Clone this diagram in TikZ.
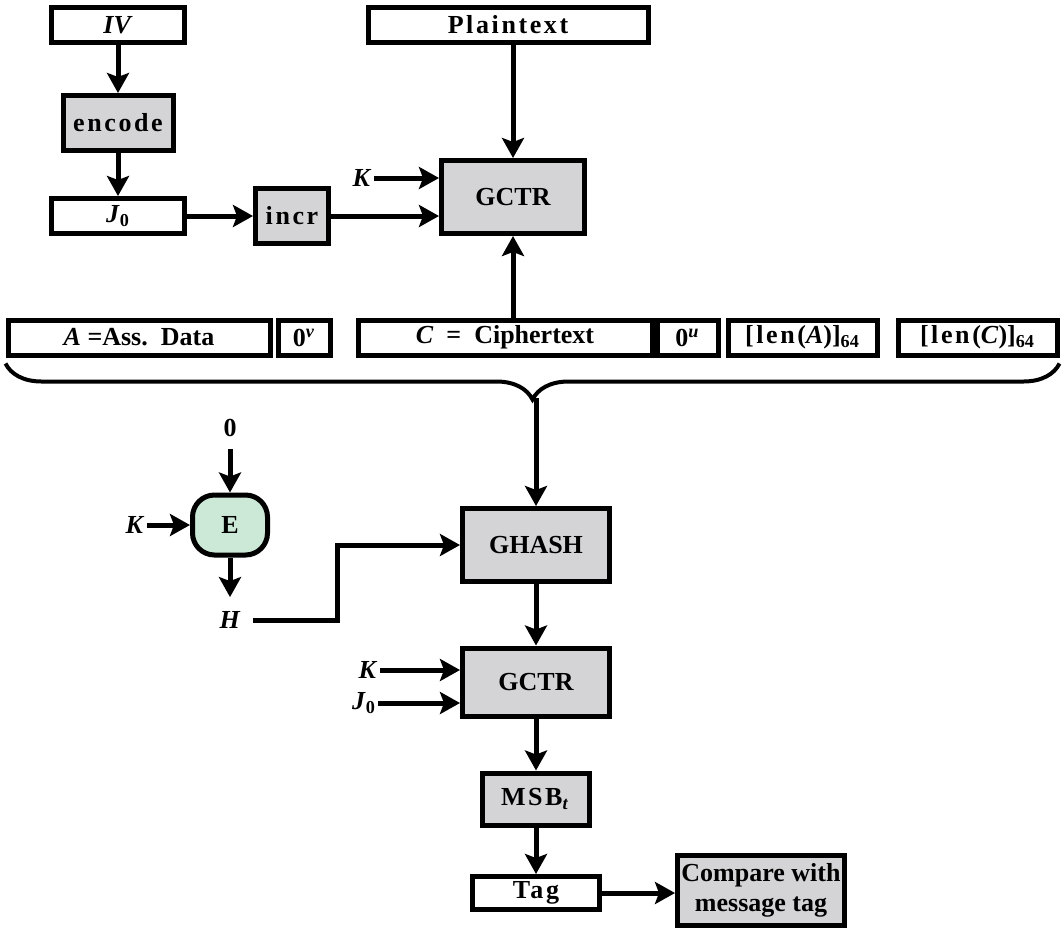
\documentclass[tikz,border=0pt]{standalone}
\usepackage{fontspec}
\setmainfont{Liberation Serif}
\newfontfamily\spaced[LetterSpace=10]{Liberation Serif}
\usetikzlibrary{arrows.meta}
\usetikzlibrary{decorations.pathreplacing}
\definecolor{cgray}{rgb}{0.83, 0.83, 0.84}
\definecolor{cgreen}{rgb}{0.80, 0.91, 0.84}

\begin{document}
\begin{tikzpicture}[x=0.5pt, y=-0.5pt,
    font=\fontsize{13}{15}\selectfont\bfseries,
    box/.style={draw, line width=2.5pt, fill=white, inner sep=0pt, minimum height=17.5pt},
    op/.style={box, fill=cgray},
    arr/.style={line width=2.5pt, -{Stealth[length=10pt, width=11pt, inset=2pt]}},
    lab/.style={inner sep=1pt}]

\useasboundingbox (0, 0) rectangle (1063, 932);

% IV, encode, J0, incr
\node [box, minimum width=66.5pt] (iv) at (118, 25) {\textit{IV}};
\node [op, minimum width=55pt, minimum height=27.5pt] (enc) at (118, 123) {\spaced encode};
\node [box, minimum width=66.5pt] (j0) at (118, 216) {\textit{J}\textsubscript{0}};
\node [op, minimum width=36.5pt, minimum height=27.5pt] (inc) at (292, 216) {\spaced incr};

\draw [arr] (iv) -- (enc);
\draw [arr] (enc) -- (j0);
\draw [arr] (j0) -- (inc);

% plaintext and first GCTR
\node [box, minimum width=140pt] (ptxt) at (508, 25) {\spaced Plaintext};
\node [op, minimum width=71.5pt, minimum height=36.5pt] (gctra) at (513, 197) {GCTR};
\node [lab] (ka) at (362, 178) {\textit{K}};

\draw [arr] (gctra |- ptxt.south) -- (gctra.north);
\draw [arr] (ka) -- (ka -| gctra.west);
\draw [arr] (inc) -- (inc -| gctra.west);

% data row
\foreach \name/\x/\w/\txt in {
    ad/139/131/{\textit{A} =Ass.\ \ Data},
    zv/304/26/{0\textsuperscript{\textit{v}}},
    ct/505/147/{\textit{C} \ = \ Ciphertext},
    zu/687.5/30.5/{0\textsuperscript{\textit{u}}},
    la/802.5/74.5/{{\spaced [len(}\textit{A}){]}\textsubscript{64}},
    lc/977.5/79.5/{{\spaced [len(}\textit{C}){]}\textsubscript{64}}} {
    \node [box, minimum width=\w pt] (\name) at (\x, 337.5) {\txt};
}

\draw [arr] (gctra |- ct.north) -- (gctra.south);

% brace over the data row
\draw [line width=2pt, decorate, decoration={brace, mirror, amplitude=18pt, raise=3pt}]
    (ad.south west) -- (lc.south east);
\coordinate (tip) at (536, 398);

% GHASH
\node [op, minimum width=73.5pt, minimum height=36.5pt] (ghash) at (536, 545) {GHASH};
\draw [arr] (tip) -- (ghash.north);

% hash subkey
\node [lab] (zero) at (230, 428) {0};
\node [draw, line width=2.5pt, fill=cgreen, rounded corners=11pt, minimum width=37.5pt,
    minimum height=30pt] (e) at (230, 525) {E};
\node [lab] (ke) at (135, 525) {\textit{K}};
\node [lab] (h) at (230, 620) {\textit{H}};
\coordinate (hbend) at (337, 545);

\draw [arr, shorten <=5pt] (zero) -- (e);
\draw [arr] (ke) -- (e);
\draw [arr, shorten >=6pt] (e) -- (h);
\draw [arr, shorten <=5pt] (h.east) -| (hbend) -- (ghash.west);

% second GCTR
\node [op, minimum width=73.5pt, minimum height=34pt] (gctrb) at (536, 682) {GCTR};
\node [lab] (kb) at (368, 670) {\textit{K}};
\node [lab] (jb) at (364, 703) {\textit{J}\textsubscript{0}};

\draw [arr] (ghash) -- (gctrb);
\draw [arr] (kb) -- (kb -| gctrb.west);
\draw [arr] (jb) -- (jb -| gctrb.west);

% MSB, tag, compare
\node [op, minimum width=53.5pt, minimum height=26pt] (msb) at (536, 799) {\spaced MSB\textsubscript{\textit{t}}};
\node [box, minimum width=63.5pt, minimum height=16.5pt] (tag) at (536, 893) {\spaced Tag};
\node [op, minimum width=83.5pt, minimum height=35pt, align=center] (cmp) at (761, 890) {Compare with\\message tag};

\draw [arr] (gctrb) -- (msb);
\draw [arr] (msb) -- (tag);
\draw [arr] (tag) -- (tag -| cmp.west);

\end{tikzpicture}
\end{document}
